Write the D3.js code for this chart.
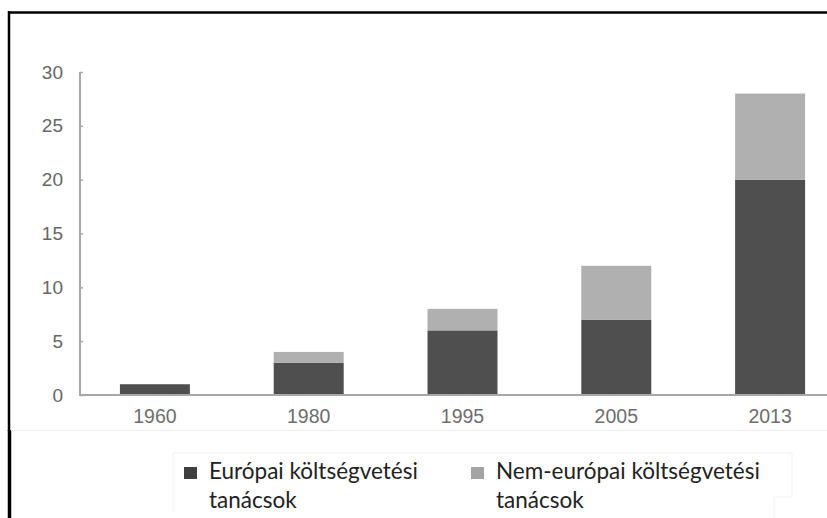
<!DOCTYPE html>
<html>
<head>
<meta charset="utf-8">
<script src="https://d3js.org/d3.v7.min.js"></script>
<style>
  body { margin: 0; background: #fff; }
  svg { display: block; }
</style>
</head>
<body>
<div id="chart"></div>
<script>
//-----------------------------DATA------------------------------//
var years = ["1960", "1980", "1995", "2005", "2013"];
var europai = [1, 3, 6, 7, 20];
var nemEuropai = [0, 1, 2, 5, 8];
var yTicks = [0, 5, 10, 15, 20, 25, 30];
var legendNames = [["Európai költségvetési", "tanácsok"], ["Nem-európai költségvetési", "tanácsok"]];
var colors = ["#4f4f4f", "#b0b0b0"];

//-----------------------------SVG-------------------------------//
const width = 827;
const height = 518;
const svg = d3.select("#chart").append("svg")
    .attr("width", width)
    .attr("height", height);

// frame lines of the cut-out picture
svg.append("line").attr("x1", 8).attr("x2", width).attr("y1", 12.5).attr("y2", 12.5)
    .attr("stroke", "#000").attr("stroke-width", 2.5);
svg.append("line").attr("x1", 9).attr("x2", 9).attr("y1", 11).attr("y2", 431)
    .attr("stroke", "#000").attr("stroke-width", 2.5);
svg.append("line").attr("x1", 9.5).attr("x2", 9.5).attr("y1", 430).attr("y2", height)
    .attr("stroke", "#000").attr("stroke-width", 3.5);
svg.append("line").attr("x1", 11).attr("x2", width).attr("y1", 430.5).attr("y2", 430.5)
    .attr("stroke", "#f0f0f0").attr("stroke-width", 1);

//----------------------------SCALES-----------------------------//
var xScale = d3.scaleBand().domain(years).range([78, 847])
    .paddingInner(0.545).paddingOuter(0.2725);
var yScale = d3.scaleLinear().domain([0, 30]).range([395, 72]);

//----------------------------BARS-------------------------------//
var stacked = years.map(function(y, i) {
    return [
        {year: y, y0: 0, y1: europai[i], c: colors[0]},
        {year: y, y0: europai[i], y1: europai[i] + nemEuropai[i], c: colors[1]}
    ];
}).flat().filter(function(d) { return d.y1 > d.y0; });

svg.append("g").selectAll("rect")
    .data(stacked)
    .join("rect")
    .attr("x", function(d) { return xScale(d.year); })
    .attr("width", xScale.bandwidth())
    .attr("y", function(d) { return yScale(d.y1); })
    .attr("height", function(d) { return yScale(d.y0) - yScale(d.y1); })
    .attr("fill", function(d) { return d.c; });

//-----------------------------AXES------------------------------//
var yaxis = d3.axisRight(yScale).tickValues(yTicks).tickSize(3).tickFormat(d3.format("d"));
var gy = svg.append("g")
    .attr("transform", "translate(80,0)")
    .call(yaxis);
gy.select(".domain").attr("stroke", "#a8a8a8").attr("stroke-width", 2).attr("d", "M0,72V395");
gy.selectAll(".tick line").attr("stroke", "#a8a8a8").attr("stroke-width", 1.5);
gy.selectAll(".tick text")
    .attr("x", -17)
    .attr("text-anchor", "end")
    .attr("fill", "#666")
    .style("font-family", "'Liberation Sans', Arial, sans-serif")
    .style("font-size", "19px");

var xaxis = d3.axisBottom(xScale).tickSize(0).tickPadding(14);
var gx = svg.append("g")
    .attr("transform", "translate(0,395)")
    .call(xaxis);
gx.select(".domain").attr("stroke", "#a8a8a8").attr("stroke-width", 2).attr("d", "M79,0H" + width);
gx.selectAll(".tick text")
    .attr("fill", "#6e6e6e")
    .style("font-family", "'Liberation Sans', Arial, sans-serif")
    .style("font-size", "19.5px");

//----------------------------LEGEND-----------------------------//
svg.append("path")
    .attr("d", "M173,512V453H792V497H774V518")
    .attr("fill", "none").attr("stroke", "#f2f2f2").attr("stroke-width", 1);

var legendX = [184, 471];
var legend = svg.append("g").selectAll("g")
    .data(legendNames)
    .join("g")
    .attr("transform", function(d, i) { return "translate(" + legendX[i] + ",0)"; });

legend.append("rect")
    .attr("x", 0).attr("y", 467)
    .attr("width", 13).attr("height", 12)
    .attr("fill", function(d, i) { return i == 0 ? "#3f3f3f" : "#a3a3a3"; });

legend.append("text")
    .attr("x", 24).attr("y", 479)
    .attr("fill", "#222")
    .style("font-family", "Lato, sans-serif")
    .style("font-size", "22.5px")
    .selectAll("tspan")
    .data(function(d) { return d; })
    .join("tspan")
    .attr("x", 25)
    .attr("dy", function(d, i) { return i == 0 ? 0 : 29; })
    .text(function(d) { return d; });
</script>
</body>
</html>
